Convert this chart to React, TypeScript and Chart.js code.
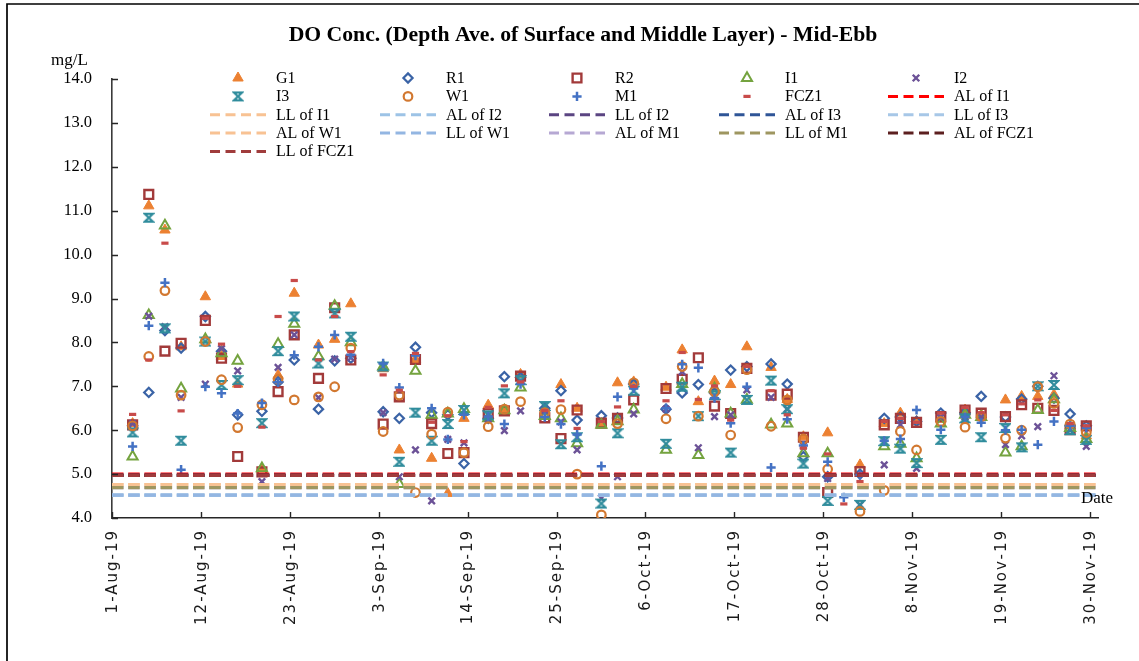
import React, { useEffect, useRef } from 'react';
import { Chart, registerables } from 'chart.js';
import { drawPoint } from 'chart.js/helpers';

Chart.register(...registerables);

// ---------------- DATA ----------------
const DATES = [
  '2019-08-03', '2019-08-05', '2019-08-07', '2019-08-09', '2019-08-12', '2019-08-14', '2019-08-16',
  '2019-08-19', '2019-08-21', '2019-08-23', '2019-08-26', '2019-08-28', '2019-08-30',
  '2019-09-03', '2019-09-05', '2019-09-07', '2019-09-09', '2019-09-11', '2019-09-13',
  '2019-09-16', '2019-09-18', '2019-09-20', '2019-09-23', '2019-09-25', '2019-09-27', '2019-09-30',
  '2019-10-02', '2019-10-04', '2019-10-08', '2019-10-10', '2019-10-12', '2019-10-14', '2019-10-16',
  '2019-10-18', '2019-10-21', '2019-10-23', '2019-10-25', '2019-10-28', '2019-10-30',
  '2019-11-01', '2019-11-04', '2019-11-06', '2019-11-08', '2019-11-11', '2019-11-14', '2019-11-16',
  '2019-11-19', '2019-11-21', '2019-11-23', '2019-11-25', '2019-11-27', '2019-11-29',
];

const G1 = [6.15, 11.11, 10.56, 7.9, 9.04, 7.68, 7.05, 5.12, 7.25, 9.12, 7.94, 8.07, 8.88,
  7.4, 5.55, 7.61, 5.36, 4.56, 6.27, 6.57, 6.45, 7.27, 6.5, 7.04, 6.5, 6.15,
  7.08, 7.1, 6.98, 7.83, 6.65, 7.12, 7.04, 7.9, 7.43, 6.7, 5.85, 5.94, null,
  5.21, 6.15, 6.39, 6.2, 6.25, 6.46, 6.35, 6.69, 6.77, 6.77, 6.81, 6.1, 5.87];
const R1 = [6.1, 6.86, 8.27, 7.87, 8.59, 7.8, 6.35, 6.43, 7.1, 7.6, 6.48, 7.58, 7.64,
  6.42, 6.27, 7.89, 6.4, 6.35, 5.24, 6.27, 7.22, 7.2, 6.5, 6.9, 6.23, 6.33,
  6.28, 7.05, 6.48, 6.85, 7.04, 6.85, 7.37, 7.45, 7.51, 7.05, 5.4, 4.94, null,
  5.0, 6.27, 6.3, 6.2, 6.39, 6.4, 6.77, 6.3, 6.71, 7.0, 6.73, 6.37, 6.1];
const R2 = [6.12, 11.37, 7.8, 7.98, 8.5, 7.64, 5.4, 5.05, 6.88, 8.17, 7.18, 8.79, 7.6,
  6.14, 6.76, 7.61, 6.15, 5.47, 5.49, 6.38, 6.44, 7.23, 6.28, 5.81, 6.46, 6.16,
  6.27, 6.69, 6.95, 7.16, 7.65, 6.55, 6.38, 7.41, 6.8, 6.82, 5.84, 4.58, null,
  5.06, 6.12, 6.27, 6.18, 6.31, 6.46, 6.39, 6.31, 6.58, 6.5, 6.45, 6.01, 6.1];
const I1 = [5.4, 8.62, 10.66, 6.95, 8.07, 7.75, 7.58, 5.13, 7.96, 8.42, 7.68, 8.83, 8.0,
  7.45, 4.77, 7.35, 6.35, 6.38, 6.48, 6.27, 6.45, 6.97, 6.32, 6.27, 5.7, 6.12,
  6.2, 6.47, 5.55, 7.05, 5.43, 6.95, 6.38, 6.69, 6.13, 6.15, 5.47, 5.47, null,
  null, 5.63, 5.69, 5.36, 6.15, 6.35, 6.3, 5.49, 5.63, 6.46, 6.7, 6.05, 5.8];
const I2 = [6.15, 8.6, 8.36, 6.75, 7.05, 7.86, 7.35, 4.83, 7.43, 8.17, 6.74, 7.62, 7.65,
  6.4, 4.94, 5.55, 4.39, 5.79, 5.71, 6.25, 5.99, 6.44, 6.45, 6.19, 5.55, 4.45,
  4.94, 6.37, 6.48, 7.33, 5.6, 6.31, 6.35, 6.92, 6.75, 6.48, 5.65, 4.9, null,
  4.3, 5.21, 6.12, 5.13, 6.3, 6.3, 6.3, 5.67, 5.87, 6.08, 7.24, 6.0, 5.63];
const I3 = [5.95, 10.84, 8.32, 5.76, 8.02, 7.03, 7.14, 6.16, 7.8, 8.59, 7.52, 8.66, 8.13,
  7.45, 5.28, 6.4, 5.76, 6.14, 6.46, 6.34, 6.84, 7.14, 6.55, 5.68, 5.84, 4.33,
  5.93, 6.9, 5.69, 6.99, 6.32, 6.8, 5.49, 6.69, 7.13, 6.48, 5.24, 4.39, null,
  4.3, 5.75, 5.58, 5.25, 5.78, 6.27, 5.84, 6.05, 5.61, 7.0, 7.03, 6.0, 5.78];
const W1 = [6.1, 7.68, 9.18, 6.8, 8.02, 7.15, 6.06, 6.58, 7.16, 6.69, 6.76, 6.99, 7.87,
  5.97, 6.8, 4.58, 5.91, 6.41, 5.49, 6.08, 6.48, 6.65, 6.4, 6.47, 5.0, 4.07,
  6.15, 7.08, 6.26, 7.45, 6.32, 6.88, 5.89, 7.38, 6.09, 6.69, 5.8, 5.11, null,
  4.15, 4.63, 5.97, 5.55, 6.2, 6.07, 6.31, 5.82, 6.0, 6.99, 6.61, 6.14, 5.95];
const M1 = [5.63, 8.38, 9.36, 5.1, 6.99, 6.84, 6.38, 6.62, 7.09, 7.71, 7.9, 8.17, 7.72,
  7.52, 6.97, 7.7, 6.5, 5.79, 6.35, 6.31, 6.14, 7.05, 6.3, 6.14, 5.9, 5.18,
  6.76, 6.95, 6.5, 7.5, 7.42, 6.73, 6.16, 6.99, 5.15, 6.25, 5.65, 5.28, 4.47,
  4.98, 5.76, 5.8, 6.46, 6.01, 6.3, 6.17, 6.0, 6.01, 5.67, 6.2, 6.1, 6.05];
const FCZ1 = [6.36, 7.6, 10.26, 6.44, 8.55, 7.96, 7.0, 6.07, 8.59, 9.41, 7.6, 8.59, 7.79,
  7.26, 6.91, 7.75, 6.18, 6.33, 5.74, 6.52, 7.01, 7.1, 6.45, 6.67, 6.04, 6.2,
  6.53, 7.0, 6.67, 7.77, 6.7, 7.01, 6.23, 7.45, 6.9, 6.35, 5.59, 5.46, 4.32,
  4.83, 6.2, 6.27, 6.18, 6.39, 6.52, 6.4, 6.35, 6.6, 6.69, 6.45, 6.15, 6.1];

const STATION_NAMES = ['G1', 'R1', 'R2', 'I1', 'I2', 'I3', 'W1', 'M1', 'FCZ1'];
const STATION_VALUES = [G1, R1, R2, I1, I2, I3, W1, M1, FCZ1];

const LIMIT_NAMES = ['AL of I1', 'LL of I1', 'AL of I2', 'LL of I2', 'AL of I3', 'LL of I3',
  'AL of W1', 'LL of W1', 'AL of M1', 'LL of M1', 'AL of FCZ1', 'LL of FCZ1'];
const LIMIT_VALUES = [5.0, 4.76, 4.52, 4.97, 4.97, 4.52, 4.76, 4.52, 4.69, 4.69, 4.97, 4.97];

const X_TICK_DAYS = [0, 11, 22, 33, 44, 55, 66, 77, 88, 99, 110, 121];
const X_TICK_LABELS = ['1-Aug-19', '12-Aug-19', '23-Aug-19', '3-Sep-19', '14-Sep-19', '25-Sep-19',
  '6-Oct-19', '17-Oct-19', '28-Oct-19', '8-Nov-19', '19-Nov-19', '30-Nov-19'];
const X_MIN = 0;
const X_MAX = 122;
const Y_MIN = 4;
const Y_MAX = 14;

const TITLE = 'DO Conc. (Depth Ave. of Surface and Middle Layer) - Mid-Ebb';
const Y_UNIT = 'mg/L';
const X_NAME = 'Date';

// ---------------- STYLES ----------------
const SERIF = '"Liberation Serif", "Times New Roman", serif';

function makeHourglass(color: string) {
  const c = document.createElement('canvas');
  c.width = 12;
  c.height = 12;
  const g = c.getContext('2d')!;
  g.strokeStyle = color;
  g.lineWidth = 2.2;
  g.lineJoin = 'miter';
  g.beginPath();
  g.moveTo(2, 2.2);
  g.lineTo(10, 2.2);
  g.lineTo(2, 9.8);
  g.lineTo(10, 9.8);
  g.closePath();
  g.stroke();
  return c;
}

type MarkerStyle = { style: any; color: string; fill: string; radius: number; width: number };

function markerStyles(): MarkerStyle[] {
  return [
    { style: 'triangle', color: '#EC8132', fill: '#EC8132', radius: 6, width: 1 },
    { style: 'rectRot', color: '#3A63A6', fill: 'rgba(0,0,0,0)', radius: 4.6, width: 2.2 },
    { style: 'rect', color: '#A23A3A', fill: 'rgba(0,0,0,0)', radius: 6.2, width: 2.4 },
    { style: 'triangle', color: '#74A33F', fill: 'rgba(0,0,0,0)', radius: 5.8, width: 2 },
    { style: 'crossRot', color: '#6C5297', fill: 'rgba(0,0,0,0)', radius: 4.6, width: 2.4 },
    { style: makeHourglass('#2F8C9C'), color: '#2F8C9C', fill: '#2F8C9C', radius: 5, width: 0 },
    { style: 'circle', color: '#D27830', fill: 'rgba(0,0,0,0)', radius: 4.3, width: 2.2 },
    { style: 'cross', color: '#4472C4', fill: 'rgba(0,0,0,0)', radius: 4.6, width: 2.5 },
    { style: 'line', color: '#C84B4A', fill: 'rgba(0,0,0,0)', radius: 3.6, width: 3.2 },
  ];
}

const LIMIT_COLORS = ['#FF0000', '#F8C293', '#9DC3E6', '#5B4582', '#2F5597', '#A7C7E7',
  '#F8C293', '#93B6E2', '#B6A8D3', '#9E9660', '#5C1F1F', '#A03C3C'];

function dayOffset(s: string) {
  const [y, m, d] = s.split('-').map(Number);
  return (Date.UTC(y, m - 1, d) - Date.UTC(2019, 7, 1)) / 86400000 + 0.55;
}

const W = 1139;
const H = 661;
const PLOT_LEFT = 112;
const PLOT_TOP = 79;
const PLOT_RIGHT = 1098;
const PLOT_BOTTOM = 518;

export default function App() {
  const ref = useRef<HTMLCanvasElement | null>(null);

  useEffect(() => {
    document.body.style.margin = '0';
    const canvas = ref.current!;
    const markers = markerStyles();
    const xs = DATES.map(dayOffset);

    const datasets: any[] = [];
    STATION_NAMES.forEach((name, i) => {
      const m = markers[i];
      datasets.push({
        label: name,
        data: STATION_VALUES[i].map((v, j) => ({ x: xs[j], y: v })),
        showLine: false,
        pointStyle: m.style,
        pointRadius: m.radius,
        pointHoverRadius: m.radius,
        pointBorderWidth: m.width,
        pointBorderColor: m.color,
        pointBackgroundColor: m.fill,
        borderColor: m.color,
        backgroundColor: m.fill,
        order: 100 - datasets.length,
      });
    });
    LIMIT_NAMES.forEach((name, i) => {
      datasets.push({
        label: name,
        data: [{ x: X_MIN, y: LIMIT_VALUES[i] }, { x: X_MAX, y: LIMIT_VALUES[i] }],
        showLine: true,
        borderColor: LIMIT_COLORS[i],
        borderWidth: 3.2,
        borderDash: [11.5, 4.7],
        borderCapStyle: 'butt',
        pointRadius: 0,
        fill: false,
        order: 100 - datasets.length,
      });
    });

    const decorations = {
      id: 'decorations',
      afterDraw(chart: any) {
        const ctx = chart.ctx as CanvasRenderingContext2D;
        const xScale = chart.scales.x;
        const yScale = chart.scales.y;
        ctx.save();
        // frame (top & left visible)
        ctx.strokeStyle = '#000';
        ctx.lineWidth = 1.7;
        ctx.beginPath();
        ctx.moveTo(W, 4);
        ctx.lineTo(7, 4);
        ctx.lineTo(7, H);
        ctx.stroke();

        // inside tick marks
        ctx.strokeStyle = '#262626';
        ctx.lineWidth = 1.4;
        ctx.beginPath();
        for (let v = Y_MIN; v <= Y_MAX; v++) {
          const y = Math.round(yScale.getPixelForValue(v)) + 0.5;
          ctx.moveTo(xScale.left, y);
          ctx.lineTo(xScale.left + 6, y);
        }
        X_TICK_DAYS.forEach((d) => {
          const x = Math.round(xScale.getPixelForValue(d)) + 0.5;
          ctx.moveTo(x, yScale.bottom);
          ctx.lineTo(x, yScale.bottom - 6);
        });
        ctx.stroke();

        // title
        ctx.fillStyle = '#000';
        ctx.textBaseline = 'middle';
        ctx.textAlign = 'center';
        ctx.font = `bold 18px ${SERIF}`;
        const tw = ctx.measureText(TITLE).width;
        const fs = Math.min(22, 18 * 589 / tw);
        ctx.font = `bold ${fs.toFixed(2)}px ${SERIF}`;
        ctx.fillText(TITLE, 583, 35);

        // axis names
        ctx.font = `17px ${SERIF}`;
        ctx.textAlign = 'left';
        ctx.fillText(Y_UNIT, 51, 61);
        ctx.fillText(X_NAME, 1081, 499);

        // x tick labels (rotated)
        ctx.font = `15px "DejaVu Sans", sans-serif`;
        (ctx as any).letterSpacing = '2px';
        ctx.fillStyle = '#1a1a1a';
        X_TICK_DAYS.forEach((d, i) => {
          const x = xScale.getPixelForValue(d);
          ctx.save();
          ctx.translate(x + 1, 531);
          ctx.rotate(-Math.PI / 2);
          ctx.textAlign = 'right';
          ctx.textBaseline = 'middle';
          ctx.fillText(X_TICK_LABELS[i], 2, 0);
          ctx.restore();
        });
        (ctx as any).letterSpacing = '0px';

        // legend
        const colX = [238, 408, 577, 747, 916];
        const rowY = [78, 96.4, 114.8, 133.1, 151.4];
        const entries: any[] = [];
        STATION_NAMES.forEach((n, i) => entries.push({ name: n, marker: markers[i] }));
        LIMIT_NAMES.forEach((n, i) => entries.push({ name: n, line: LIMIT_COLORS[i] }));
        ctx.font = `16px ${SERIF}`;
        ctx.textAlign = 'left';
        ctx.textBaseline = 'middle';
        entries.forEach((e, k) => {
          const cx = colX[k % 5];
          const cy = rowY[Math.floor(k / 5)];
          if (e.marker) {
            const m = e.marker as MarkerStyle;
            ctx.save();
            ctx.fillStyle = m.fill;
            ctx.strokeStyle = m.color;
            ctx.lineWidth = m.width;
            drawPoint(ctx, { pointStyle: m.style, rotation: 0, radius: m.radius, borderWidth: m.width } as any, cx, cy);
            ctx.restore();
          } else {
            ctx.save();
            ctx.strokeStyle = e.line;
            ctx.lineWidth = 3;
            ctx.setLineDash([10, 5.5]);
            ctx.beginPath();
            ctx.moveTo(cx - 28, cy);
            ctx.lineTo(cx + 28, cy);
            ctx.stroke();
            ctx.restore();
          }
          ctx.fillStyle = '#000';
          ctx.fillText(e.name, cx + 38, cy + 0.5);
        });
        ctx.restore();
      },
    };

    const chart = new Chart(canvas, {
      type: 'scatter',
      data: { datasets },
      options: {
        responsive: false,
        animation: false,
        devicePixelRatio: 1,
        layout: { padding: { left: 0, top: PLOT_TOP, right: W - PLOT_RIGHT, bottom: 0 } },
        plugins: {
          legend: { display: false },
          tooltip: { enabled: false },
          title: { display: false },
        },
        scales: {
          x: {
            type: 'linear',
            min: X_MIN,
            max: X_MAX,
            grid: { display: false },
            border: { display: true, color: '#262626', width: 1.6 },
            ticks: { display: false },
            afterFit: (s: any) => { s.height = H - PLOT_BOTTOM; },
          },
          y: {
            type: 'linear',
            min: Y_MIN,
            max: Y_MAX,
            grid: { display: false, drawTicks: false },
            border: { display: true, color: '#3a3a3a', width: 1.6 },
            ticks: {
              stepSize: 1,
              padding: 20,
              color: '#000',
              font: { family: SERIF, size: 16.5 },
              callback: (v: any) => Number(v).toFixed(1),
            },
            afterFit: (s: any) => { s.width = PLOT_LEFT; },
          },
        },
      },
      plugins: [decorations],
    });
    return () => chart.destroy();
  }, []);

  return (
    <div style={{ position: 'relative', width: W, height: H, background: '#fff' }}>
      <canvas ref={ref} width={W} height={H} style={{ display: 'block', width: W, height: H }} />
    </div>
  );
}
